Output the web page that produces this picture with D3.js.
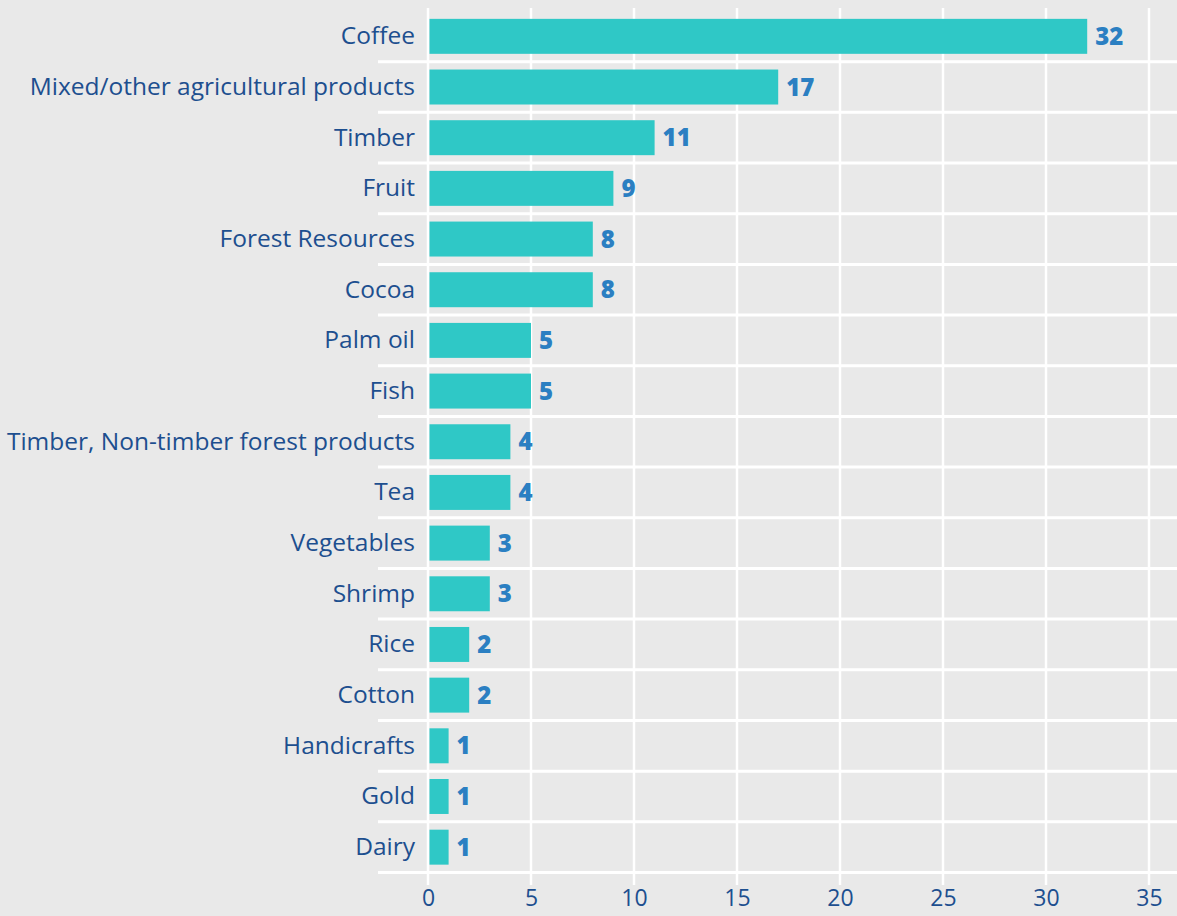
<!DOCTYPE html>
<html>
<head>
<meta charset="utf-8">
<script src="https://cdn.jsdelivr.net/npm/d3@7"></script>
<style>
  html, body { margin: 0; padding: 0; background: #e9e9e9; }
  svg { display: block; }
</style>
</head>
<body>
<svg id="chart" width="1177" height="916"></svg>
<script>
// Number of initiatives by commodity
const categories = [
  "Coffee", "Mixed/other agricultural products", "Timber", "Fruit",
  "Forest Resources", "Cocoa", "Palm oil", "Fish",
  "Timber, Non-timber forest products", "Tea", "Vegetables", "Shrimp",
  "Rice", "Cotton", "Handicrafts", "Gold", "Dairy"
];
const counts = [32, 17, 11, 9, 8, 8, 5, 5, 4, 4, 3, 3, 2, 2, 1, 1, 1];
const tickValues = [0, 5, 10, 15, 20, 25, 30, 35];

const W = 1177, H = 916;
const plot = { left: 428, right: 1149, top: 11, bottom: 872.5 };
const fontFamily = "'Open Sans', 'Noto Sans', sans-serif";

const svg = d3.select("#chart");
svg.append("rect").attr("width", W).attr("height", H).attr("fill", "#e9e9e9");

const x = d3.scaleLinear().domain([0, 35]).range([plot.left, plot.right]);
const y = d3.scaleBand().domain(categories).range([plot.top, plot.bottom]).paddingInner(0.31).paddingOuter(0.155);

// Horizontal grid lines at the band boundaries
const step = y.step();
const boundaries = d3.range(1, categories.length + 1).map(i => plot.top + i * step);
svg.append("g").selectAll("line").data(boundaries).join("line")
  .attr("x1", 378).attr("x2", W)
  .attr("y1", d => d).attr("y2", d => d)
  .attr("stroke", "#ffffff").attr("stroke-width", 3);

// Vertical grid lines at each tick
svg.append("g").selectAll("line").data(tickValues).join("line")
  .attr("x1", d => x(d)).attr("x2", d => x(d))
  .attr("y1", 8).attr("y2", 885)
  .attr("stroke", "#ffffff").attr("stroke-width", 2.5);

// Bars
svg.append("g").selectAll("rect").data(categories).join("rect")
  .attr("x", x(0) + 1.5)
  .attr("y", d => y(d))
  .attr("width", (d, i) => x(counts[i]) - x(0) - 1.5)
  .attr("height", y.bandwidth())
  .attr("fill", "#2fc8c6");

// Value labels
svg.append("g").selectAll("text").data(categories).join("text")
  .attr("x", (d, i) => x(counts[i]) + 8)
  .attr("y", d => y(d) + y.bandwidth() / 2)
  .attr("dy", "0.36em")
  .attr("font-family", fontFamily)
  .attr("font-weight", 800)
  .attr("font-size", 24)
  .attr("fill", "#2b7fc2")
  .text((d, i) => counts[i]);

// Category labels
const yAxis = d3.axisLeft(y).tickSize(0).tickPadding(13);
const gy = svg.append("g").attr("transform", `translate(${plot.left},0)`).call(yAxis);
gy.select(".domain").remove();
gy.selectAll("text")
  .attr("font-family", fontFamily)
  .attr("font-size", 24.5)
  .attr("fill", "#1d4f8f");

// Value axis ticks
const xAxis = d3.axisBottom(x).tickValues(tickValues).tickSize(0).tickPadding(0);
const gx = svg.append("g").attr("transform", `translate(0,${890})`).call(xAxis);
gx.select(".domain").remove();
gx.selectAll("text")
  .attr("dy", "0.71em")
  .attr("font-family", fontFamily)
  .attr("font-size", 23)
  .attr("fill", "#1d4f8f");
</script>
</body>
</html>
